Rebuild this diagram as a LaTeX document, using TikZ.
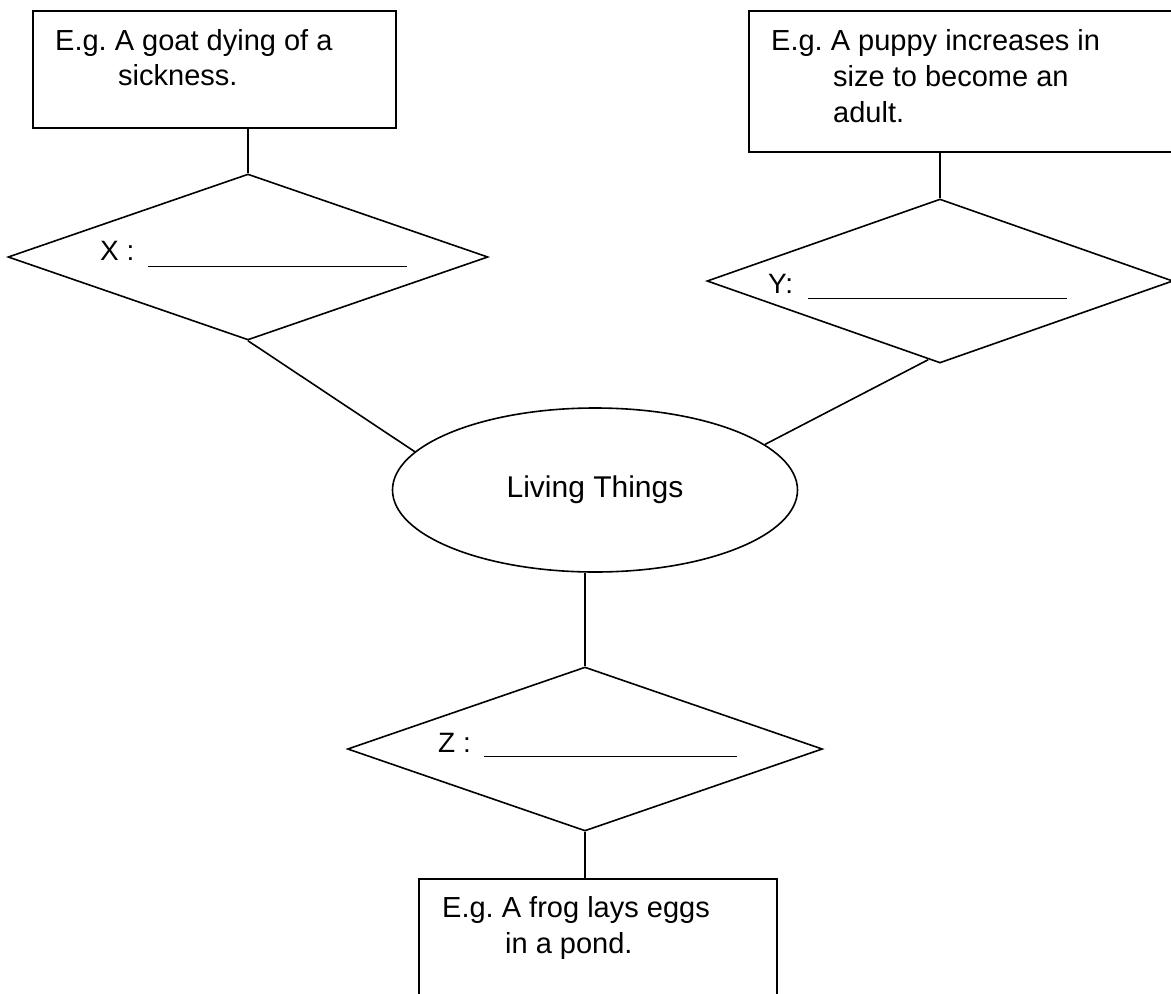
\documentclass[tikz,border=0pt]{standalone}
\usepackage{fontspec}
\setmainfont{Liberation Sans}
\newfontfamily\boxfont{Liberation Sans}
\frenchspacing
\usetikzlibrary{shapes.geometric,calc}
\tikzset{
  conn/.style={line width=1.6pt, black},
  boxnode/.style={draw, rectangle, line width=1.6pt, inner sep=0pt, anchor=north west},
  dia/.style={draw, diamond, line width=1.6pt, inner sep=0pt},
  ell/.style={draw, ellipse, line width=1.6pt, inner sep=0pt},
  boxtext/.style={inner sep=0pt, anchor=north west, align=left, font=\boxfont\frenchspacing\fontsize{29}{35}\selectfont},
  lab/.style={inner sep=0pt, anchor=base west, font=\boxfont\fontsize{28}{30}\selectfont}
}
\begin{document}
\begin{tikzpicture}[x=1pt,y=-1pt]
\useasboundingbox (0,0) rectangle (1171,994);
\clip (0,0) rectangle (1171,994);
% boxes
\node[boxnode, minimum width=363pt, minimum height=117pt] (bX) at (32,10) {};
\node[boxnode, minimum width=440pt, minimum height=141pt] (bY) at (748,10) {};
\node[boxnode, minimum width=358pt, minimum height=140pt] (bZ) at (418,878) {};
% box texts
\node[boxtext] (tX) at (55,28) {\rule{0pt}{22pt}E.g. A goat dying of a\\\hspace*{63pt}sickness.};
\node[boxtext, font=\boxfont\frenchspacing\fontsize{29}{36}\selectfont] (tY) at (771,28) {\rule{0pt}{22pt}E.g. A puppy increases in\\\hspace*{62pt}size to become an\\\hspace*{62pt}adult.};
\node[boxtext, font=\boxfont\frenchspacing\fontsize{29}{36}\selectfont] (tZ) at (442,895) {\rule{0pt}{22pt}E.g. A frog lays eggs\\\hspace*{63pt}in a pond.};
% diamonds
\node[dia, minimum width=480pt, minimum height=166pt] (dX) at (248,257) {};
\node[dia, minimum width=466pt, minimum height=164pt] (dY) at (940,281) {};
\node[dia, minimum width=475pt, minimum height=164pt] (dZ) at (585,749) {};
% labels
\node[lab] (lX) at (100,260) {\makebox[48pt][l]{X :}\rule[-7pt]{259pt}{1.5pt}};
\node[lab] (lY) at (768,293) {\makebox[40pt][l]{Y:}\rule[-6pt]{259pt}{1.5pt}};
\node[lab] (lZ) at (438,752) {\makebox[46pt][l]{Z :}\rule[-5pt]{253pt}{1.5pt}};
% ellipse
\node[ell, minimum width=405pt, minimum height=164pt, font=\fontsize{30}{36}\selectfont] (E) at (595,490) {\raisebox{3pt}{Living Things}};
% connectors
\draw[conn] (bX.south -| dX.north) -- (dX.north);
\draw[conn] (bY.south -| dY.north) -- (dY.north);
\draw[conn] (dX.south) -- (E.168);
\draw[conn] ($(dY.south)!0.05!(dY.west)$) -- (E.15);
\draw[conn] (E.south -| dZ.north) -- (dZ.north);
\draw[conn] (dZ.south) -- (dZ.south |- bZ.north);
\end{tikzpicture}
\end{document}
